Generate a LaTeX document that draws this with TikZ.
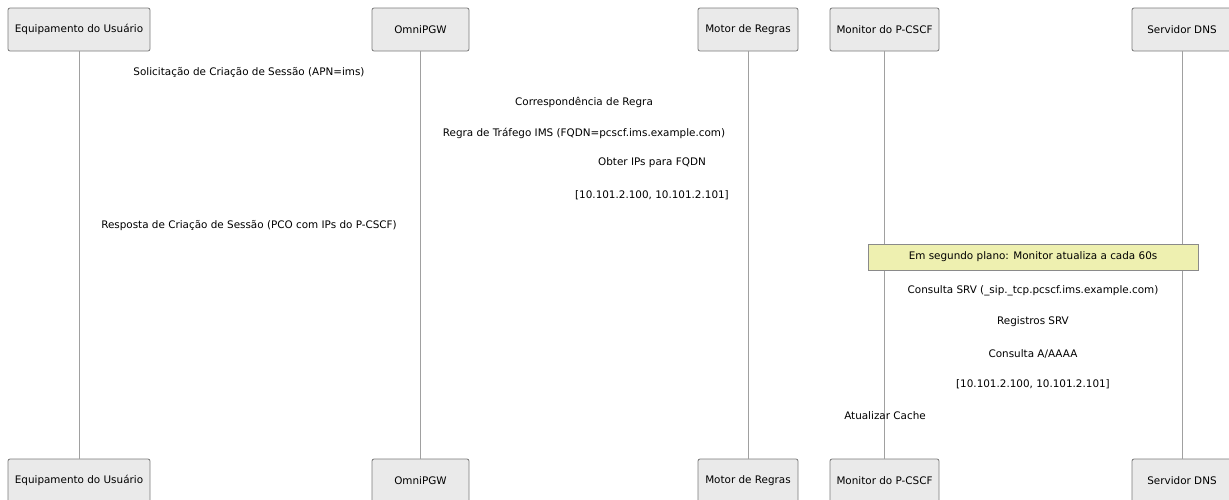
\documentclass[tikz,border=0pt]{standalone}
\usepackage{fontspec}
\setmainfont{DejaVu Sans}
\usetikzlibrary{positioning}
\definecolor{actfill}{HTML}{EAEAEA}
\definecolor{actline}{HTML}{7A7A7A}
\definecolor{lifeln}{HTML}{A0A0A0}
\definecolor{notefill}{HTML}{EEF0B0}
\definecolor{noteline}{HTML}{8A8A8A}
\begin{document}
\begin{tikzpicture}[x=1pt,y=-1pt, every node/.style={font=\fontsize{10.4}{12}\selectfont},
  actor/.style={draw=actline,fill=actfill,rounded corners=2pt,minimum height=43pt,inner sep=0pt,line width=0.8pt},
  life/.style={draw=lifeln,line width=0.9pt},
  msg/.style={inner sep=1pt},
  notebox/.style={draw=noteline,fill=notefill,minimum width=330pt,minimum height=26pt,inner sep=0pt,line width=0.8pt}]
\useasboundingbox (0,0) rectangle (1229,499);
% participants, top and bottom, with lifelines
\foreach \n/\x/\w/\t in {ue/79/142/Equipamento do Usuário, pgw/420.5/97/OmniPGW, motor/748/100/Motor de Regras, mon/884.5/109/Monitor do P-CSCF, dns/1182/100/Servidor DNS}{
  \node[actor,minimum width=\w pt] (\n top) at (\x,29.5) {\t};
  \node[actor,minimum width=\w pt] (\n bot) at (\x,480.5) {\t};
  \draw[life] (\n top.south) -- (\n bot.north);
}
% messages
\node[msg] (req) at (249,72) {Solicitação de Criação de Sessão (APN=ims)};
\node[msg] (match) at (584,102) {Correspondência de Regra};
\node[msg] (rule) at (584,133) {Regra de Tráfego IMS (FQDN=pcscf.ims.example.com)};
\node[msg] (getip) at (652,163) {Obter IPs para FQDN};
\node[msg] (iplist) at (652,195) {[10.101.2.100, 10.101.2.101]};
\node[msg] (resp) at (249,226) {Resposta de Criação de Sessão (PCO com IPs do P-CSCF)};
\node[notebox] (bg) at (1033,257) {Em segundo plano: Monitor atualiza a cada 60s};
\node[msg] (srvq) at (1033,291) {Consulta SRV (\_sip.\_tcp.pcscf.ims.example.com)};
\node[msg] (srvr) at (1033,322) {Registros SRV};
\node[msg] (aq) at (1033,354) {Consulta A/AAAA};
\node[msg] (ar) at (1033,384) {[10.101.2.100, 10.101.2.101]};
\node[msg] (cache) at (885,416) {Atualizar Cache};
\end{tikzpicture}
\end{document}
